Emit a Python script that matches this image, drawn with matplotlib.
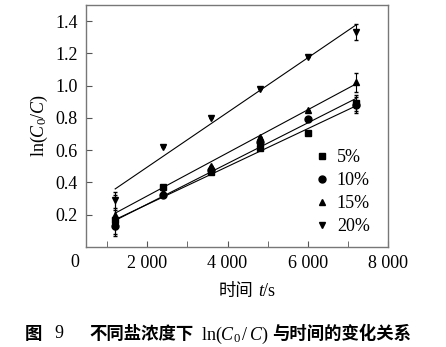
#!/usr/bin/env python3
"""ln(C0/C) vs time at different salt concentrations (Fig. 9)."""

import matplotlib
matplotlib.use("Agg")
import matplotlib.pyplot as plt
import matplotlib.transforms as mtransforms
from matplotlib.lines import Line2D
from matplotlib.ticker import FixedLocator, FuncFormatter

plt.rcParams["font.family"] = ["Liberation Serif", "Noto Sans CJK SC"]
plt.rcParams["mathtext.fontset"] = "custom"
plt.rcParams["mathtext.rm"] = "Liberation Serif"
plt.rcParams["mathtext.it"] = "Liberation Serif:italic"

# data
time_s = [1200, 2400, 3600, 4800, 6000, 7200]
labels = ["5%", "10%", "15%", "20%"]
markers = ["s", "o", "^", "v"]
ln_c = {
    "5%": [0.17, 0.37, 0.465, 0.615, 0.705, 0.89],
    "10%": [0.13, 0.32, 0.48, 0.65, 0.795, 0.88],
    "15%": [0.20, 0.34, 0.505, 0.68, 0.85, 1.02],
    "20%": [0.29, 0.62, 0.80, 0.98, 1.175, 1.33],
}
ln_err = {
    "5%": [0.06, 0, 0, 0, 0, 0.05],
    "10%": [0.06, 0, 0, 0, 0, 0.05],
    "15%": [0.12, 0, 0, 0, 0, 0.06],
    "20%": [0.05, 0, 0, 0, 0, 0.05],
}
# fitted lines (start / end values at first and last time)
fit_start = {"5%": 0.17, "10%": 0.165, "15%": 0.21, "20%": 0.36}
fit_end = {"5%": 0.874, "10%": 0.92, "15%": 1.01, "20%": 1.375}

CJK = "Noto Sans CJK SC"
SERIF = "Liberation Serif"


def text_row(fig, pieces, x_center_px, y_px):
    """Lay out (string, fontdict, gap_px) pieces side by side, centred."""
    renderer = fig.canvas.get_renderer()
    W, H = fig.bbox.width, fig.bbox.height
    items = []
    total = 0
    for s, props, gap in pieces:
        t = fig.text(0, 1 - y_px / H, s, va="center_baseline", ha="left", **props)
        w = t.get_window_extent(renderer).width
        items.append((t, w, gap))
        total += w + gap
    total -= items[-1][2]
    x = x_center_px - total / 2
    for t, w, gap in items:
        t.set_x(x / W)
        x += w + gap


fig = plt.figure(figsize=(4.46, 3.47), dpi=100)
ax = fig.add_axes([0.193, 0.288, 0.677, 0.698])

for lab, mk in zip(labels, markers):
    ax.plot([time_s[0], time_s[-1]], [fit_start[lab], fit_end[lab]],
            color="black", lw=0.8)
    ax.errorbar(time_s, ln_c[lab], yerr=ln_err[lab], fmt=mk, color="black",
                ms=5, elinewidth=0.8, capsize=1.5)

ax.set_xlim(475, 8000)
ax.set_ylim(0, 1.5)
ax.xaxis.set_major_locator(FixedLocator([2000, 4000, 6000, 8000]))
ax.xaxis.set_minor_locator(FixedLocator([1000, 3000, 5000, 7000]))
ax.xaxis.set_major_formatter(FuncFormatter(lambda v, p: f"{int(v):,}".replace(",", " ")))
ax.set_yticks([0.2, 0.4, 0.6, 0.8, 1.0, 1.2, 1.4])
ax.set_yticklabels(["0.2", "0.4", "0.6", "0.8", "1.0", "1.2", "1.4"])
ax.tick_params(which="both", direction="in", labelsize=13, color="#555555")
ax.tick_params(which="major", length=4, pad=6)
ax.tick_params(which="minor", length=4)

for sp in ax.spines.values():
    sp.set_color("#777777")
    sp.set_linewidth(1.0)

# origin label
trans = mtransforms.blended_transform_factory(ax.transData, ax.transAxes)
ax.text(200, -0.03, "0", transform=trans, ha="center", va="top", fontsize=13)

ax.set_ylabel(r"$\mathrm{ln}(\mathit{C}_0/\mathit{C})$", fontsize=13, labelpad=4)

handles = [Line2D([], [], ls="none", marker=mk, color="black", ms=5)
           for mk in markers]
ax.legend(handles, labels, loc="lower right", bbox_to_anchor=(0.94, 0.05),
          frameon=False, fontsize=13, handletextpad=0.3, labelspacing=0.33,
          borderaxespad=0, borderpad=0, handlelength=1.0)

fig.canvas.draw()

# x-axis title
text_row(fig, [
    ("时间", dict(family=CJK, fontsize=12.5), 5),
    ("t", dict(family=SERIF, style="italic", fontsize=13), 0),
    ("/s", dict(family=SERIF, fontsize=13), 0),
], 247, 289)

# caption
text_row(fig, [
    ("图", dict(family=CJK, fontsize=12.5, weight="bold"), 12),
    ("9", dict(family=SERIF, fontsize=13), 26),
    ("不同盐浓度下", dict(family=CJK, fontsize=12.5, weight="bold"), 7),
    (r"ln($\mathit{C}_0\,/\,\mathit{C}$)", dict(family=SERIF, fontsize=13), 4),
    ("与时间的变化关系", dict(family=CJK, fontsize=12.5, weight="bold"), 0),
], 218, 332)

fig.savefig("out.png", dpi=100)
